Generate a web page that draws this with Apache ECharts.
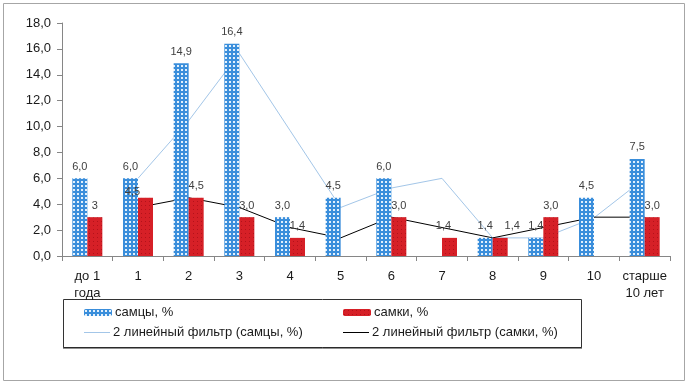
<!DOCTYPE html>
<html>
<head>
<meta charset="utf-8">
<script src="https://cdn.jsdelivr.net/npm/echarts@6/dist/echarts.min.js"></script>
<style>html,body{margin:0;padding:0;background:#fff}#c{width:688px;height:383px}</style>
</head>
<body>
<div id="c"></div>
<script>
const categories = ['до 1\nгода','1','2','3','4','5','6','7','8','9','10','старше\n10 лет'];
const males   = [6.0, 6.0, 14.9, 16.4, 3.0, 4.5, 6.0, null, 1.4, 1.4, 4.5, 7.5];
const females = [3.0, 4.5, 4.5, 3.0, 1.4, null, 3.0, 1.4, 1.4, 3.0, null, 3.0];
const maleLabels   = ['6,0','6,0','14,9','16,4','3,0','4,5','6,0','','1,4','1,4','4,5','7,5'];
const femaleLabels = ['3','4,5','4,5','3,0','1,4','','3,0','1,4','1,4','3,0','','3,0'];
const maleTrend   = [null, 6.0, 10.45, 15.65, 9.7, 3.75, 5.25, 6.0, 1.4, 1.4, 2.95, 6.0];
const femaleTrend = [null, 3.75, 4.5, 3.75, 2.2, 1.4, 3.0, 2.2, 1.4, 2.2, 3.0, 3.0];
const seriesNames = ['самцы, %','самки, %','2 линейный фильтр (самцы, %)','2 линейный фильтр (самки, %)'];

function pattern(bg, dot, dx, dy, s) {
  const c = document.createElement('canvas');
  c.width = 4; c.height = 4;
  const ctx = c.getContext('2d');
  ctx.fillStyle = bg; ctx.fillRect(0,0,4,4);
  ctx.fillStyle = dot; ctx.fillRect(dx,dy,s,s);
  return {image: c, repeat: 'repeat'};
}
const blueFill = pattern('#3a8edb', '#e2f0fc', 1, 1, 2);
const redFill = pattern('#d62027', '#b3121a', 1, 1, 1);

const femaleOffsets = {1: [-13, 6], 7: [-6, 0], 8: [12, 0]};
const fmt = v => v.toFixed(1).replace('.', ',');
const FONT = 'Liberation Sans, Arial, sans-serif';
const labelStyle = {show: true, position: 'top', distance: 6, color: '#404040', fontSize: 11, fontFamily: FONT};

const chart = echarts.init(document.getElementById('c'), null, {renderer: 'canvas'});

function legendAt(name, left, top, w, h, icon) {
  const item = icon ? {name: name, icon: icon} : name;
  return {data: [item], left: left, top: top, padding: 0, itemWidth: w, itemHeight: h,
    itemGap: 0, textStyle: {fontSize: 13, color: '#1a1a1a', fontFamily: FONT, padding: [0,0,0,-2]}, selectedMode: false};
}

chart.setOption({
  animation: false,
  backgroundColor: '#fff',
  grid: {left: 62, right: 18, top: 23, bottom: 127, containLabel: false},
  xAxis: {
    type: 'category', data: categories,
    axisLine: {lineStyle: {color: '#868686', width: 1}},
    axisTick: {show: true, length: 5, lineStyle: {color: '#868686'}, alignWithLabel: false},
    axisLabel: {color: '#1a1a1a', fontSize: 13, fontFamily: FONT, margin: 12, lineHeight: 17, interval: 0}
  },
  yAxis: {
    type: 'value', min: 0, max: 18, interval: 2,
    axisLine: {show: true, lineStyle: {color: '#868686'}},
    axisTick: {show: true, length: 5, lineStyle: {color: '#868686'}},
    splitLine: {show: false},
    axisLabel: {color: '#1a1a1a', fontSize: 13, fontFamily: FONT, margin: 11, formatter: fmt}
  },
  legend: [
    legendAt(seriesNames[0], 84, 306, 28, 7),
    legendAt(seriesNames[1], 343, 306, 28, 7),
    legendAt(seriesNames[2], 84, 326, 26, 1, 'rect'),
    legendAt(seriesNames[3], 343, 326, 26, 1, 'rect')
  ],
  graphic: [
    {type: 'rect', shape: {x: 3.5, y: 3.5, width: 681, height: 377}, style: {fill: null, stroke: '#a6a6a6', lineWidth: 1}, silent: true, z: -1},
    {type: 'rect', shape: {x: 63.5, y: 299.5, width: 518, height: 48}, style: {fill: null, stroke: '#333', lineWidth: 1}, silent: true},
    {type: 'line', shape: {x1: 63, y1: 348, x2: 582, y2: 348}, style: {stroke: '#222', lineWidth: 1}, silent: true}
  ],
  series: [
    {
      name: seriesNames[0], type: 'bar', barWidth: 15, barGap: '0%', z: 3,
      itemStyle: {color: blueFill},
      data: males.map((v, i) => ({value: v, label: Object.assign({}, labelStyle, {formatter: maleLabels[i]})}))
    },
    {
      name: seriesNames[1], type: 'bar', barWidth: 15, barGap: '0%', z: 3,
      itemStyle: {color: redFill},
      data: females.map((v, i) => ({value: v, label: Object.assign({}, labelStyle, {formatter: femaleLabels[i], offset: femaleOffsets[i] || [0, 0]})}))
    },
    {
      name: seriesNames[2], type: 'line', z: 1, symbol: 'none', connectNulls: false,
      lineStyle: {color: '#a3c6e8', width: 1}, itemStyle: {color: '#a3c6e8'},
      data: maleTrend
    },
    {
      name: seriesNames[3], type: 'line', z: 1, symbol: 'none',
      lineStyle: {color: '#000', width: 1}, itemStyle: {color: '#000'},
      data: femaleTrend
    }
  ]
});
</script>
</body>
</html>
